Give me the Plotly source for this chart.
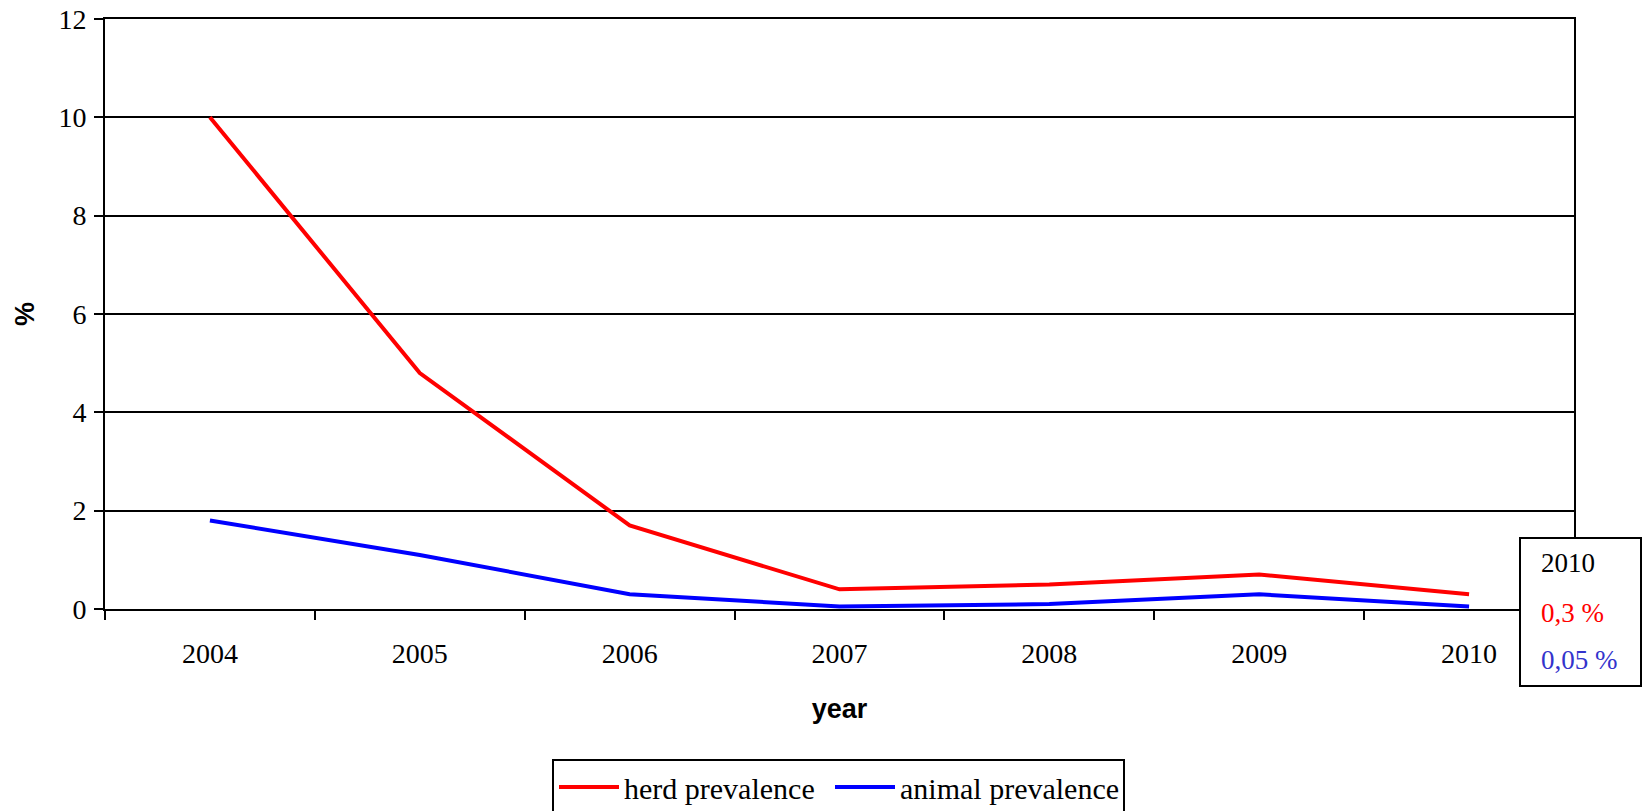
import plotly.graph_objects as go

years = ["2004", "2005", "2006", "2007", "2008", "2009", "2010"]
herd_prevalence = [10, 4.8, 1.7, 0.4, 0.5, 0.7, 0.3]
animal_prevalence = [1.8, 1.1, 0.3, 0.05, 0.1, 0.3, 0.05]
y_ticks = [0, 2, 4, 6, 8, 10, 12]
box_lines = ["2010", "0,3 %", "0,05 %"]

W, H = 1645, 811
L, R, T, B = 105, 71, 19, 202
pw, ph = W - L - R, H - T - B

def px(x):
    return (x - L) / pw

def py(y):
    return (H - B - y) / ph

serif = "Liberation Serif, Times New Roman, serif"
sans = "Liberation Sans, Arial, sans-serif"

fig = go.Figure()
fig.add_trace(go.Scatter(x=years, y=herd_prevalence, mode="lines", name="herd prevalence",
                         line=dict(color="#FF0000", width=4), legendwidth=201))
fig.add_trace(go.Scatter(x=years, y=animal_prevalence, mode="lines", name="animal prevalence",
                         line=dict(color="#0000FF", width=4), legendwidth=218))

fig.update_layout(
    width=W, height=H,
    margin=dict(l=L, r=R, t=T, b=B, autoexpand=False),
    paper_bgcolor="white", plot_bgcolor="white",
    font=dict(family=serif, size=28, color="black"),
    showlegend=True,
    legend=dict(orientation="h", x=px(552), y=py(759), xanchor="left", yanchor="top",
                bordercolor="black", borderwidth=2, bgcolor="white",
                font=dict(family=serif, size=30, color="black"),
                itemwidth=60, traceorder="normal", entrywidthmode="pixels"),
)

fig.update_xaxes(type="category", range=[-0.5, 6.5], tickson="boundaries",
                 ticks="outside", ticklen=9, tickwidth=2, tickcolor="black",
                 showline=True, linecolor="black", linewidth=2, mirror=True,
                 showgrid=False, ticklabelstandoff=18,
                 tickfont=dict(family=serif, size=28, color="black"),
                 title=dict(text="year", font=dict(family=sans, size=27, color="black", weight="bold"),
                            standoff=32))

fig.update_yaxes(range=[0, 12], tickvals=y_ticks, ticks="outside", ticklen=9, tickwidth=2,
                 tickcolor="black", showline=True, linecolor="black", linewidth=2, mirror=True,
                 showgrid=True, gridcolor="black", gridwidth=1.5, zeroline=False,
                 ticklabelstandoff=2,
                 tickfont=dict(family=serif, size=28, color="black"),
                 title=dict(text="%", font=dict(family=sans, size=27, color="black", weight="bold"),
                            standoff=16))

# value box on the right
fig.add_shape(type="rect", xref="paper", yref="paper",
              x0=px(1520), x1=px(1641), y0=py(686), y1=py(538),
              line=dict(color="black", width=2), fillcolor="white", layer="above")

box_colors = ["black", "#FF0000", "#3333CC"]
box_y = [563, 613, 660]
for txt, col, yy in zip(box_lines, box_colors, box_y):
    fig.add_annotation(text=txt, xref="paper", yref="paper", x=px(1539), y=py(yy),
                       xanchor="left", yanchor="middle", showarrow=False,
                       font=dict(family=serif, size=27, color=col))

fig.write_html("out.html", config={"displayModeBar": False},
               post_script="document.body.style.margin='0';document.body.style.overflow='hidden';")
